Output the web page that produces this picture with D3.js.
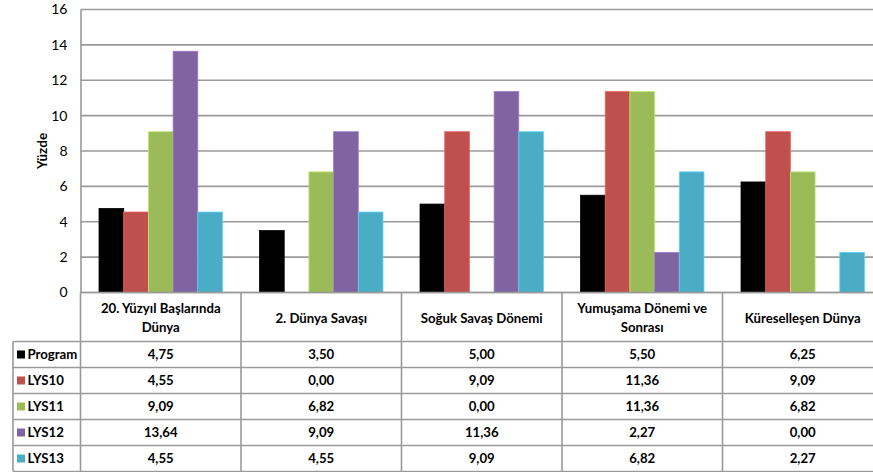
<!DOCTYPE html>
<html>
<head>
<meta charset="utf-8">
<script src="https://cdn.jsdelivr.net/npm/d3@7"></script>
<style>
html,body{margin:0;padding:0;background:#fff;overflow:hidden;}
text{font-family:Lato,"Open Sans",sans-serif;}
</style>
</head>
<body>
<svg id="chart" width="873" height="472"></svg>
<script>
// ---- data ----
const categories = ["20. Yüzyıl Başlarında Dünya", "2. Dünya Savaşı", "Soğuk Savaş Dönemi", "Yumuşama Dönemi ve Sonrası", "Küreselleşen Dünya"];
const seriesNames = ["Program", "LYS10", "LYS11", "LYS12", "LYS13"];
const programValues = [4.75, 3.50, 5.00, 5.50, 6.25];
const lys10Values = [4.55, 0.00, 9.09, 11.36, 9.09];
const lys11Values = [9.09, 6.82, 0.00, 11.36, 6.82];
const lys12Values = [13.64, 9.09, 11.36, 2.27, 0.00];
const lys13Values = [4.55, 4.55, 9.09, 6.82, 2.27];
const yTicks = [0, 2, 4, 6, 8, 10, 12, 14, 16];
const yLabel = "Yüzde";
const colors = ["#000000", "#C0504D", "#9BBB59", "#8064A2", "#4BACC6"];

const seriesValues = [programValues, lys10Values, lys11Values, lys12Values, lys13Values];
const series = seriesNames.map((n, i) => ({name: n, color: colors[i], values: seriesValues[i]}));

// ---- layout ----
const plotLeft = 80.5, plotRight = 883, plotTop = 9.5, plotBottom = 292.5;
const headerH = 49, rowH = 26, tableLeft = 13;
const gridColor = "#9a9a9a";
const fs = 13.2;

const svg = d3.select("#chart");
const x = d3.scaleBand().domain(categories).range([plotLeft, plotRight]).paddingInner(0).paddingOuter(0);
const xs = d3.scaleBand().domain(seriesNames).range([0, x.bandwidth()]).paddingInner(0).paddingOuter(0.75);
const y = d3.scaleLinear().domain([0, 16]).range([plotBottom, plotTop]);

// gridlines
svg.append("g").selectAll("line").data(yTicks).join("line")
  .attr("x1", plotLeft).attr("x2", plotRight)
  .attr("y1", d => y(d)).attr("y2", d => y(d))
  .attr("stroke", gridColor).attr("stroke-width", 1.6);

// y axis
const yAxis = svg.append("g").attr("transform", `translate(${plotLeft},0)`)
  .call(d3.axisLeft(y).tickValues(yTicks).tickSize(0).tickPadding(13).tickFormat(d3.format("d")));
yAxis.select(".domain").attr("stroke", gridColor).attr("stroke-width", 1.6);
yAxis.selectAll("text").attr("font-size", 14).attr("fill", "#000").attr("font-family", "Lato, sans-serif");

// y label
svg.append("text")
  .attr("transform", `translate(47,${(plotTop + plotBottom) / 2}) rotate(-90)`)
  .attr("text-anchor", "middle")
  .attr("font-size", 13.5).attr("font-weight", "bold")
  .text(yLabel);

// bars
series.forEach(s => {
  svg.append("g").selectAll("rect").data(s.values.map((v, i) => ({v, c: categories[i]}))).join("rect")
    .filter(d => d.v > 0)
    .attr("x", d => x(d.c) + xs(s.name))
    .attr("width", xs.bandwidth())
    .attr("y", d => y(d.v))
    .attr("height", d => y(0) - y(d.v))
    .attr("fill", s.color)
    .attr("stroke", d3.color(s.color).brighter(0.6))
    .attr("stroke-width", 0.8);
});

// bottom axis line
svg.append("line").attr("x1", plotLeft).attr("x2", plotRight).attr("y1", plotBottom).attr("y2", plotBottom)
  .attr("stroke", gridColor).attr("stroke-width", 1.6);

// ---- data table ----
const tableTop = plotBottom;
const rowTop = i => tableTop + headerH + i * rowH;
const tableBottom = rowTop(series.length);
const tg = svg.append("g");

const colEdges = categories.map(c => x(c)).concat([plotRight]);
tg.selectAll("line.v").data(colEdges).join("line").attr("class", "v")
  .attr("x1", d => d).attr("x2", d => d)
  .attr("y1", tableTop).attr("y2", tableBottom)
  .attr("stroke", gridColor).attr("stroke-width", 1.6);
tg.append("line").attr("x1", tableLeft).attr("x2", tableLeft)
  .attr("y1", rowTop(0)).attr("y2", tableBottom).attr("stroke", gridColor).attr("stroke-width", 1.6);
tg.selectAll("line.h").data(d3.range(series.length + 1)).join("line").attr("class", "h")
  .attr("x1", tableLeft).attr("x2", plotRight)
  .attr("y1", d => rowTop(d)).attr("y2", d => rowTop(d))
  .attr("stroke", gridColor).attr("stroke-width", 1.6);

// header text with wrapping
const maxW = x.bandwidth() - 16;
categories.forEach(c => {
  const t = tg.append("text").attr("text-anchor", "middle").attr("font-size", fs).attr("font-weight", "bold")
    .attr("x", x(c) + x.bandwidth() / 2);
  const words = c.split(" ");
  let lines = [], cur = [];
  const probe = tg.append("text").attr("font-size", fs).attr("font-weight", "bold");
  words.forEach(w => {
    const trial = cur.concat([w]).join(" ");
    probe.text(trial);
    if (probe.node().getComputedTextLength() > maxW && cur.length) { lines.push(cur.join(" ")); cur = [w]; }
    else cur.push(w);
  });
  lines.push(cur.join(" "));
  probe.remove();
  const lh = 19.5;
  const cy = tableTop + headerH / 2 + 1;
  lines.forEach((ln, i) => {
    t.append("tspan").attr("x", x(c) + x.bandwidth() / 2)
      .attr("y", cy + (i - (lines.length - 1) / 2) * lh)
      .attr("dy", "0.35em").text(ln);
  });
});

// rows
const fmt = v => v.toFixed(2).replace(".", ",");
series.forEach((s, i) => {
  const cy = rowTop(i) + rowH / 2;
  tg.append("rect").attr("x", 17).attr("y", cy - 4).attr("width", 8).attr("height", 8).attr("fill", s.color);
  tg.append("text").attr("x", 27.5).attr("y", cy).attr("dy", "0.36em")
    .attr("font-size", fs).attr("font-weight", "bold").text(s.name);
  tg.selectAll(null).data(s.values.map((v, j) => ({v, c: categories[j]}))).join("text")
    .attr("x", d => x(d.c) + x.bandwidth() / 2).attr("y", cy).attr("dy", "0.36em")
    .attr("text-anchor", "middle").attr("font-size", fs).attr("font-weight", "bold")
    .text(d => fmt(d.v));
});
</script>
</body>
</html>
